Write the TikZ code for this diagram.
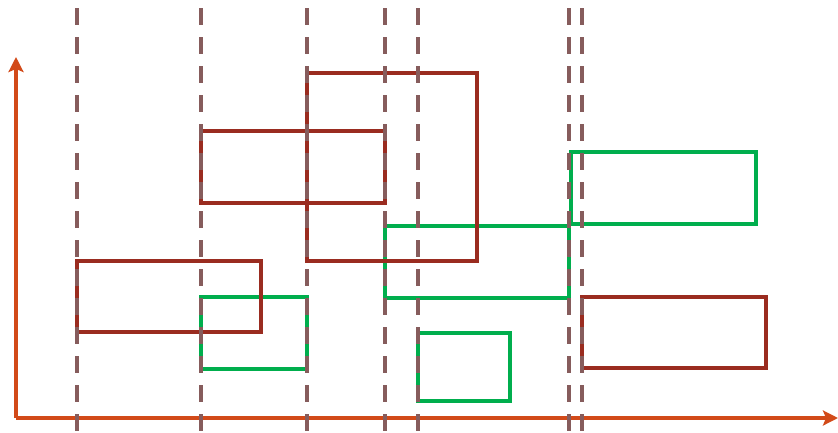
\documentclass[tikz,border=0pt]{standalone}
\usetikzlibrary{arrows.meta}
\definecolor{axisc}{HTML}{D24A19}
\definecolor{redc}{HTML}{9A2C20}
\definecolor{greenc}{HTML}{00AE4D}
\definecolor{dashc}{HTML}{865C5C}
\tikzset{
  axisline/.style={draw=axisc, line width=3.2pt, -{Stealth[length=15pt,width=15pt,inset=3pt]}},
  redbox/.style={draw=redc, line width=3.6pt},
  greenbox/.style={draw=greenc, line width=3.6pt},
  guide/.style={draw=dashc, line width=3.8pt, dash pattern=on 17pt off 12pt},
}
\begin{document}
\begin{tikzpicture}[x=1pt,y=-1pt]
\useasboundingbox (0,0) rectangle (838,432);
% green boxes
\draw[greenbox] (201,297) rectangle (307,369);
\draw[greenbox] (385,226) rectangle (569,298);
\draw[greenbox] (418,333) rectangle (510,401);
\draw[greenbox] (571,152) rectangle (756,224);
% red boxes
\draw[redbox] (77,261) rectangle (261,332);
\draw[redbox] (201,131) rectangle (385,203);
\draw[redbox] (307,73) rectangle (477,261);
\draw[redbox] (582,297) rectangle (766,368);
% axes
\coordinate (o) at (16,418);
\coordinate (ytop) at (16,57);
\coordinate (xend) at (838,418);
\draw[axisline] (o) -- (ytop);
\draw[axisline] (o) -- (xend);
% dashed guides
\foreach \x in {77,201,307,385,418,569,582}
  \draw[guide] (\x,8) -- (\x,432);
\end{tikzpicture}
\end{document}
